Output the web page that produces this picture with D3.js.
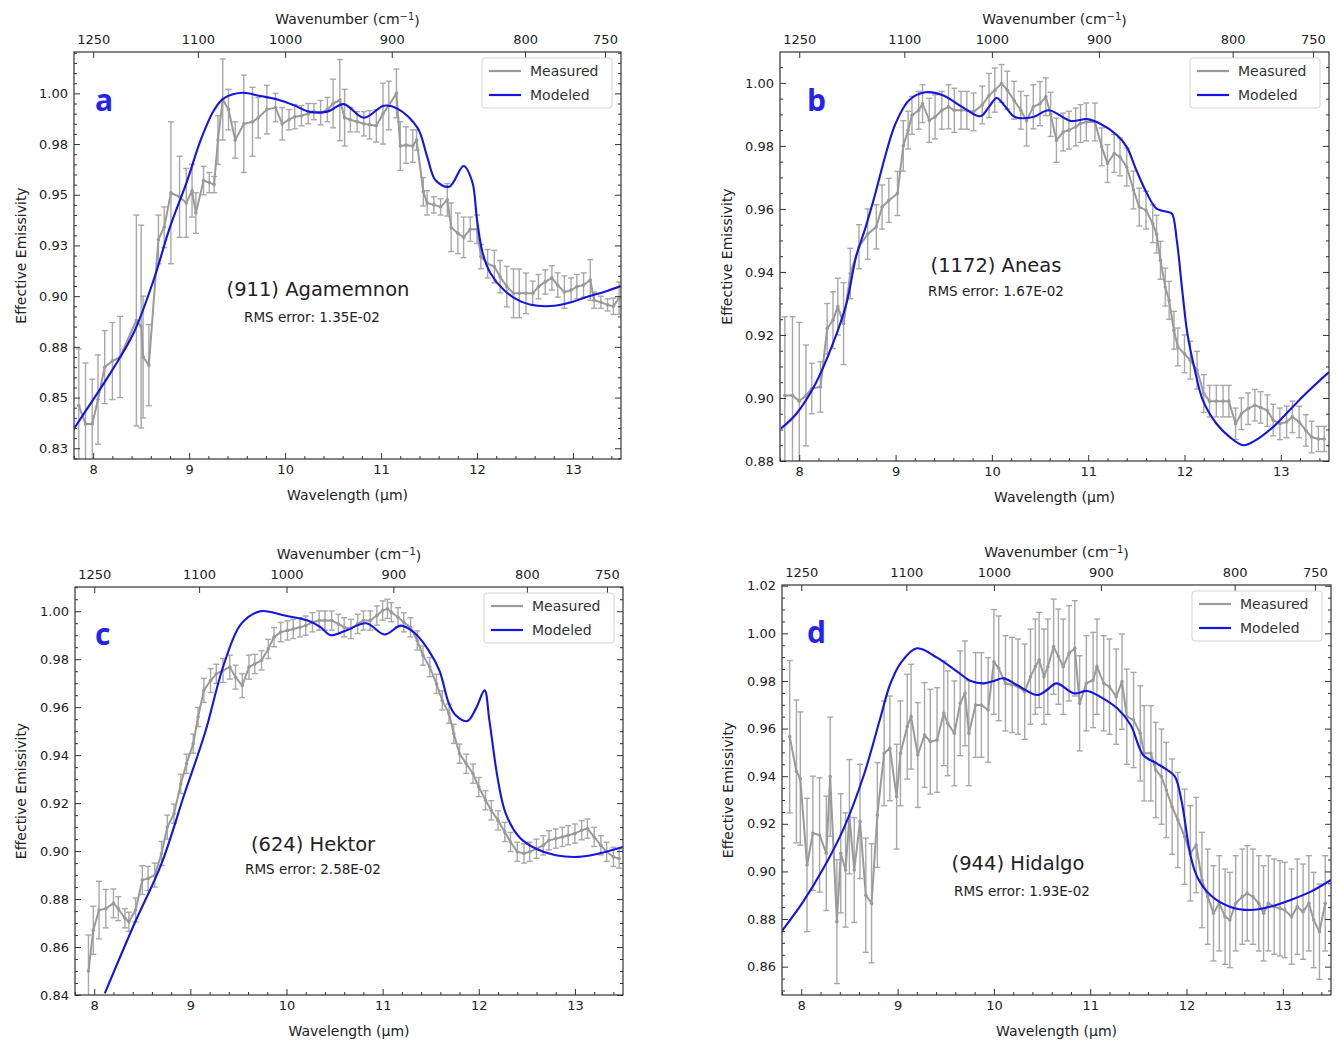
<!DOCTYPE html>
<html><head><meta charset="utf-8">
<script src="https://cdn.jsdelivr.net/npm/d3@7"></script>
<style>
body{margin:0;background:#fff;}
svg text{font-family:"DejaVu Sans",sans-serif;}
</style>
</head><body>
<svg id="chart" width="1340" height="1042"></svg>
<script>
// ---------------- DATA ----------------
const xTicks = [8, 9, 10, 11, 12, 13];
const wnTicks = [1250, 1100, 1000, 900, 800, 750];
const wnTickLabels = ["1250", "1100", "1000", "900", "800", "750"];

const aYTicks = [0.825, 0.85, 0.875, 0.9, 0.925, 0.95, 0.975, 1.0];
const aYTickLabels = ["0.83", "0.85", "0.88", "0.90", "0.93", "0.95", "0.98", "1.00"];
const bYTicks = [0.88, 0.90, 0.92, 0.94, 0.96, 0.98, 1.00];
const bYTickLabels = ["0.88", "0.90", "0.92", "0.94", "0.96", "0.98", "1.00"];
const cYTicks = [0.84, 0.86, 0.88, 0.90, 0.92, 0.94, 0.96, 0.98, 1.00];
const cYTickLabels = ["0.84", "0.86", "0.88", "0.90", "0.92", "0.94", "0.96", "0.98", "1.00"];
const dYTicks = [0.86, 0.88, 0.90, 0.92, 0.94, 0.96, 0.98, 1.00, 1.02];
const dYTickLabels = ["0.86", "0.88", "0.90", "0.92", "0.94", "0.96", "0.98", "1.00", "1.02"];

const panelLetters = ["a", "b", "c", "d"];
const asteroidNames = ["(911) Agamemnon", "(1172) Aneas", "(624) Hektor", "(944) Hidalgo"];
const rmsLabels = ["RMS error: 1.35E-02", "RMS error: 1.67E-02", "RMS error: 2.58E-02", "RMS error: 1.93E-02"];
const legendLabels = ["Measured", "Modeled"];

// Panel a (911) Agamemnon
const aWave = [7.85,7.92,7.99,8.05,8.12,8.20,8.28,8.45,8.50,8.52,8.58,8.68,8.74,8.81,8.90,8.97,9.03,9.07,9.15,9.21,9.26,9.30,9.35,9.41,9.48,9.57,9.66,9.72,9.81,9.90,9.97,10.04,10.10,10.17,10.24,10.30,10.37,10.44,10.50,10.57,10.62,10.68,10.75,10.82,10.88,10.95,11.02,11.08,11.16,11.20,11.26,11.33,11.37,11.44,11.48,11.55,11.62,11.69,11.73,11.80,11.86,11.93,12.00,12.04,12.11,12.18,12.24,12.31,12.38,12.44,12.51,12.58,12.64,12.71,12.78,12.84,12.91,12.98,13.04,13.11,13.18,13.22,13.29,13.36,13.42,13.48];
const aMeas = [0.846,0.837,0.837,0.849,0.865,0.868,0.870,0.888,0.885,0.870,0.866,0.928,0.934,0.951,0.949,0.946,0.952,0.941,0.957,0.956,0.955,0.977,0.997,0.992,0.977,0.985,0.986,0.988,0.992,0.993,0.985,0.987,0.9885,0.989,0.990,0.991,0.9905,0.992,0.995,0.9967,0.988,0.987,0.986,0.985,0.9845,0.984,0.990,0.994,1.000,0.974,0.9745,0.974,0.977,0.9515,0.946,0.945,0.944,0.9475,0.934,0.931,0.929,0.933,0.933,0.9195,0.916,0.9146,0.9096,0.9047,0.9014,0.9014,0.9014,0.9014,0.9047,0.907,0.909,0.9055,0.902,0.903,0.9047,0.9055,0.908,0.898,0.897,0.8957,0.895,0.899];
const aErr = [0.028,0.030,0.022,0.022,0.018,0.019,0.020,0.052,0.050,0.030,0.020,0.012,0.010,0.035,0.020,0.017,0.013,0.010,0.007,0.005,0.004,0.012,0.020,0.010,0.009,0.024,0.017,0.010,0.012,0.007,0.008,0.005,0.006,0.005,0.005,0.004,0.006,0.006,0.012,0.020,0.014,0.006,0.005,0.006,0.007,0.008,0.015,0.012,0.012,0.012,0.009,0.008,0.005,0.007,0.006,0.004,0.004,0.008,0.012,0.010,0.010,0.006,0.007,0.006,0.007,0.008,0.008,0.010,0.012,0.012,0.010,0.006,0.006,0.006,0.006,0.006,0.008,0.006,0.006,0.006,0.010,0.004,0.003,0.003,0.004,0.008];
const aModWave = [7.79,8.00,8.21,8.42,8.63,8.80,8.98,9.12,9.26,9.36,9.55,9.74,9.92,10.09,10.25,10.44,10.61,10.82,11.03,11.17,11.38,11.48,11.57,11.71,11.86,11.95,12.00,12.06,12.14,12.28,12.46,12.63,12.81,12.98,13.15,13.33,13.50];
const aModel = [0.834,0.849,0.8644,0.8817,0.908,0.934,0.957,0.977,0.9918,0.9975,1.0003,0.9987,0.997,0.9942,0.991,0.991,0.9947,0.988,0.9939,0.9925,0.983,0.9688,0.957,0.954,0.9642,0.9564,0.9375,0.921,0.9113,0.903,0.8973,0.8953,0.8953,0.897,0.8997,0.9022,0.905];

// Panel b (1172) Aneas
const bWave = [7.85,7.93,8.00,8.07,8.13,8.22,8.29,8.35,8.40,8.46,8.53,8.62,8.71,8.80,8.86,8.93,9.02,9.08,9.13,9.17,9.24,9.28,9.35,9.41,9.48,9.55,9.61,9.68,9.74,9.81,9.90,9.97,10.03,10.10,10.16,10.23,10.30,10.36,10.43,10.50,10.56,10.61,10.67,10.74,10.80,10.87,10.92,10.98,11.07,11.14,11.20,11.27,11.33,11.40,11.47,11.53,11.60,11.67,11.71,11.75,11.80,11.84,11.89,11.93,12.00,12.06,12.13,12.20,12.26,12.33,12.40,12.46,12.53,12.59,12.66,12.73,12.79,12.86,12.92,12.99,13.06,13.12,13.19,13.26,13.32,13.39,13.45];
const bMeas = [0.9008,0.9008,0.899,0.9008,0.903,0.9035,0.922,0.9247,0.929,0.9236,0.9395,0.948,0.952,0.9543,0.9606,0.9627,0.9649,0.980,0.985,0.9897,0.9913,0.9934,0.9881,0.9892,0.9913,0.9924,0.9913,0.9913,0.9913,0.9908,0.993,0.996,0.9977,0.9998,0.9977,0.9945,0.9913,0.988,0.9924,0.9934,0.9956,0.990,0.9818,0.9844,0.985,0.986,0.9871,0.9876,0.9876,0.9797,0.9744,0.9776,0.9765,0.9733,0.966,0.9606,0.9596,0.9553,0.952,0.9437,0.9352,0.931,0.9215,0.9162,0.914,0.912,0.9088,0.9014,0.899,0.899,0.899,0.899,0.8918,0.895,0.8966,0.8977,0.897,0.896,0.893,0.8918,0.8924,0.894,0.8924,0.8897,0.8876,0.887,0.887];
const bErr = [0.025,0.025,0.025,0.016,0.008,0.008,0.008,0.009,0.009,0.013,0.008,0.007,0.008,0.007,0.007,0.007,0.007,0.008,0.006,0.006,0.006,0.006,0.007,0.007,0.006,0.007,0.007,0.006,0.006,0.006,0.006,0.007,0.007,0.006,0.006,0.006,0.006,0.008,0.007,0.007,0.006,0.007,0.007,0.006,0.006,0.006,0.006,0.006,0.006,0.006,0.006,0.006,0.006,0.006,0.006,0.006,0.006,0.006,0.006,0.006,0.006,0.006,0.006,0.006,0.006,0.006,0.006,0.006,0.005,0.005,0.005,0.005,0.005,0.005,0.005,0.005,0.005,0.005,0.005,0.005,0.005,0.005,0.005,0.005,0.005,0.004,0.004];
const bModWave = [7.81,7.97,8.17,8.35,8.49,8.59,8.69,8.79,8.90,9.00,9.14,9.31,9.49,9.69,9.88,9.97,10.05,10.14,10.24,10.43,10.59,10.82,10.99,11.12,11.30,11.40,11.50,11.61,11.71,11.83,11.87,11.92,11.98,12.03,12.10,12.19,12.33,12.47,12.61,12.74,12.92,13.09,13.26,13.50];
const bModel = [0.8903,0.895,0.9046,0.9173,0.930,0.9448,0.9543,0.9649,0.9776,0.9871,0.9945,0.997,0.9961,0.9924,0.9894,0.9924,0.9952,0.9924,0.9892,0.9892,0.9913,0.9879,0.9885,0.9871,0.9834,0.9797,0.9723,0.9649,0.9601,0.959,0.9585,0.950,0.9331,0.9204,0.9098,0.8993,0.8919,0.8876,0.885,0.8866,0.8908,0.8961,0.9014,0.9082];

// Panel c (624) Hektor
const cWave = [7.94,7.99,8.05,8.12,8.20,8.25,8.32,8.36,8.43,8.50,8.56,8.63,8.70,8.76,8.83,8.90,8.96,9.03,9.08,9.14,9.21,9.27,9.34,9.41,9.47,9.54,9.61,9.67,9.74,9.81,9.87,9.94,10.01,10.07,10.14,10.20,10.27,10.34,10.40,10.47,10.54,10.60,10.67,10.74,10.80,10.87,10.94,11.00,11.05,11.09,11.16,11.22,11.29,11.36,11.42,11.49,11.56,11.62,11.69,11.74,11.80,11.87,11.94,12.00,12.07,12.13,12.20,12.27,12.33,12.40,12.47,12.53,12.60,12.67,12.73,12.80,12.87,12.93,13.00,13.07,13.13,13.20,13.27,13.33,13.40,13.46];
const cMeas = [0.850,0.867,0.8754,0.876,0.8782,0.876,0.872,0.8705,0.8754,0.8879,0.8886,0.890,0.899,0.910,0.9156,0.928,0.9364,0.9448,0.9559,0.967,0.9711,0.9739,0.9753,0.9767,0.9725,0.969,0.9767,0.978,0.9795,0.9843,0.9892,0.9913,0.992,0.9926,0.9933,0.994,0.9954,0.9961,0.9961,0.9961,0.9947,0.9933,0.9926,0.9947,0.9961,0.9961,0.9982,1.0003,1.001,0.9996,0.9975,0.9954,0.9933,0.9878,0.9815,0.9767,0.9697,0.9628,0.9573,0.9489,0.9406,0.9364,0.9323,0.9267,0.9212,0.917,0.9128,0.908,0.9038,0.8997,0.899,0.8997,0.901,0.9024,0.9045,0.9052,0.9059,0.9066,0.9073,0.9087,0.9094,0.9059,0.9024,0.8997,0.8976,0.8969];
const cErr = [0.015,0.010,0.012,0.008,0.006,0.005,0.004,0.004,0.005,0.006,0.005,0.005,0.005,0.005,0.004,0.004,0.004,0.004,0.004,0.005,0.005,0.004,0.005,0.005,0.005,0.005,0.005,0.004,0.004,0.004,0.004,0.004,0.004,0.004,0.004,0.004,0.004,0.004,0.004,0.004,0.004,0.004,0.004,0.004,0.004,0.004,0.004,0.004,0.004,0.004,0.004,0.004,0.004,0.004,0.004,0.004,0.004,0.004,0.004,0.004,0.004,0.004,0.004,0.004,0.004,0.004,0.004,0.004,0.004,0.004,0.004,0.004,0.004,0.004,0.004,0.004,0.004,0.004,0.004,0.004,0.004,0.004,0.004,0.004,0.004,0.004];
const cModWave = [8.11,8.42,8.70,8.94,9.15,9.35,9.53,9.73,9.98,10.22,10.35,10.46,10.62,10.83,11.02,11.19,11.33,11.48,11.59,11.69,11.76,11.88,11.97,12.06,12.11,12.20,12.28,12.42,12.59,12.80,13.04,13.25,13.50];
const cModel = [0.8407,0.8699,0.8948,0.924,0.949,0.978,0.9948,1.0,0.9982,0.9961,0.9935,0.990,0.992,0.995,0.9903,0.994,0.991,0.9836,0.9753,0.9614,0.9566,0.9542,0.9594,0.967,0.9545,0.9295,0.9157,0.9059,0.9011,0.8983,0.8976,0.899,0.9017];

// Panel d (944) Hidalgo
const dWave = [7.88,7.95,7.99,8.06,8.12,8.19,8.26,8.30,8.37,8.41,8.46,8.50,8.55,8.61,8.67,8.73,8.79,8.86,8.92,8.99,9.03,9.10,9.14,9.21,9.28,9.34,9.41,9.48,9.52,9.59,9.65,9.70,9.74,9.81,9.87,9.94,10.00,10.05,10.12,10.19,10.25,10.32,10.38,10.43,10.47,10.52,10.56,10.62,10.67,10.72,10.78,10.84,10.89,10.96,11.03,11.07,11.14,11.20,11.27,11.33,11.38,11.45,11.52,11.56,11.63,11.68,11.74,11.79,11.85,11.91,11.98,12.04,12.10,12.16,12.22,12.28,12.34,12.40,12.45,12.51,12.58,12.63,12.69,12.75,12.80,12.85,12.91,12.97,13.02,13.09,13.15,13.21,13.27,13.32,13.38,13.44];
const dMeas = [0.9566,0.942,0.939,0.9027,0.916,0.9153,0.9076,0.9398,0.8789,0.9076,0.9006,0.923,0.9006,0.921,0.890,0.8866,0.9237,0.9496,0.9517,0.9314,0.9496,0.9608,0.965,0.9489,0.9573,0.9545,0.9552,0.9664,0.9622,0.958,0.9706,0.9748,0.958,0.9699,0.9699,0.9678,0.988,0.9853,0.979,0.9783,0.9776,0.9755,0.9818,0.986,0.9888,0.9818,0.986,0.9944,0.9902,0.986,0.9916,0.9937,0.9706,0.979,0.9804,0.986,0.979,0.9776,0.9734,0.9797,0.965,0.9636,0.958,0.9496,0.9496,0.9426,0.9398,0.9342,0.9272,0.9216,0.9146,0.9076,0.9111,0.8964,0.8894,0.8824,0.8866,0.881,0.8796,0.8866,0.8894,0.8908,0.8894,0.8866,0.8824,0.8866,0.8852,0.8845,0.8838,0.881,0.8852,0.8831,0.8866,0.8796,0.8747,0.8866];
const dErr = [0.032,0.030,0.028,0.028,0.024,0.024,0.024,0.025,0.026,0.025,0.024,0.024,0.022,0.024,0.024,0.025,0.022,0.022,0.022,0.022,0.022,0.022,0.022,0.022,0.022,0.022,0.022,0.022,0.022,0.022,0.022,0.022,0.022,0.022,0.022,0.022,0.022,0.022,0.02,0.02,0.02,0.02,0.02,0.02,0.02,0.02,0.02,0.02,0.02,0.02,0.02,0.02,0.02,0.02,0.02,0.02,0.02,0.02,0.02,0.02,0.02,0.02,0.02,0.02,0.02,0.02,0.02,0.02,0.02,0.02,0.02,0.02,0.02,0.02,0.02,0.02,0.02,0.02,0.02,0.02,0.02,0.02,0.02,0.02,0.02,0.02,0.02,0.02,0.02,0.02,0.02,0.02,0.02,0.02,0.02,0.02];
const dModWave = [7.80,8.02,8.23,8.44,8.65,8.82,8.92,9.03,9.20,9.41,9.62,9.76,9.90,10.00,10.10,10.24,10.45,10.55,10.65,10.83,10.97,11.10,11.28,11.42,11.55,11.69,11.80,11.88,11.95,12.04,12.11,12.25,12.45,12.66,12.87,13.08,13.29,13.50];
const dModel = [0.875,0.8873,0.9013,0.918,0.9405,0.9643,0.9783,0.9874,0.9937,0.9898,0.9839,0.980,0.979,0.980,0.9811,0.9783,0.9741,0.9762,0.979,0.9748,0.9758,0.9734,0.9685,0.9615,0.9489,0.9454,0.9426,0.9398,0.9293,0.9069,0.8978,0.890,0.8852,0.8838,0.8852,0.888,0.8915,0.8964];

// ---------------- LAYOUT ----------------
const layout = [
  {frame:[74,52,621,459], yDomain:[0.8197,1.0204], yTicks:aYTicks, yLabels:aYTickLabels, wave:aWave, meas:aMeas, err:aErr, mw:aModWave, mv:aModel, name:[318,289], rms:[312,317], letter:[95,111], yl:21},
  {frame:[780,52,1329,461], yDomain:[0.88,1.0098], yTicks:bYTicks, yLabels:bYTickLabels, wave:bWave, meas:bMeas, err:bErr, mw:bModWave, mv:bModel, name:[996,265], rms:[996,291], letter:[807,111], yl:727},
  {frame:[75,587,623,995], yDomain:[0.84,1.0101], yTicks:cYTicks, yLabels:cYTickLabels, wave:cWave, meas:cMeas, err:cErr, mw:cModWave, mv:cModel, name:[313,844], rms:[313,869], letter:[95,645], yl:21},
  {frame:[782,585,1331,995], yDomain:[0.8481,1.0203], yTicks:dYTicks, yLabels:dYTickLabels, wave:dWave, meas:dMeas, err:dErr, mw:dModWave, mv:dModel, name:[1018,863], rms:[1022,891], letter:[807,643], yl:728}
];

const GRAY = "#9a9a9a";
const BLUE = "#1414e6";
const TXT = "#222";
const svg = d3.select("#chart");
const defs = svg.append("defs");

layout.forEach((P, idx) => {
  const [x0, y0, x1, y1] = P.frame;
  const x = d3.scaleLinear().domain([7.8, 13.5]).range([x0, x1]);
  const y = d3.scaleLinear().domain(P.yDomain).range([y1, y0]);
  const g = svg.append("g");

  const cid = "clip" + idx;
  defs.append("clipPath").attr("id", cid).append("rect")
    .attr("x", x0).attr("y", y0).attr("width", x1 - x0).attr("height", y1 - y0);
  const gc = g.append("g").attr("clip-path", `url(#${cid})`);

  const pts = P.wave.map((w, i) => ({w, v: P.meas[i], e: P.err[i]}));

  // error bars
  const eb = gc.append("g").attr("stroke", "#a8a8a8").attr("stroke-width", 1.4);
  eb.selectAll("line.v").data(pts).join("line").attr("class", "v")
    .attr("x1", d => x(d.w)).attr("x2", d => x(d.w))
    .attr("y1", d => y(d.v - d.e)).attr("y2", d => y(d.v + d.e));
  ["t", "b"].forEach(s => {
    eb.selectAll("line.c" + s).data(pts).join("line").attr("class", "c" + s)
      .attr("x1", d => x(d.w) - 3).attr("x2", d => x(d.w) + 3)
      .attr("y1", d => y(s === "t" ? d.v + d.e : d.v - d.e))
      .attr("y2", d => y(s === "t" ? d.v + d.e : d.v - d.e));
  });
  // measured line
  gc.append("path").datum(pts)
    .attr("fill", "none").attr("stroke", GRAY).attr("stroke-width", 2)
    .attr("d", d3.line().x(d => x(d.w)).y(d => y(d.v)));
  gc.append("g").attr("fill", GRAY).selectAll("circle").data(pts).join("circle")
    .attr("cx", d => x(d.w)).attr("cy", d => y(d.v)).attr("r", 1.8);
  // model line
  const mpts = P.mw.map((w, i) => ({w, v: P.mv[i]}));
  gc.append("path").datum(mpts)
    .attr("fill", "none").attr("stroke", BLUE).attr("stroke-width", 2.1)
    .attr("d", d3.line().curve(d3.curveCatmullRom.alpha(0.5)).x(d => x(d.w)).y(d => y(d.v)));

  // axes
  const styleAxis = sel => {
    sel.select(".domain").remove();
    sel.selectAll(".tick line").attr("stroke", "#333").attr("stroke-width", 1);
    sel.selectAll(".tick text").attr("fill", TXT).style("font-size", "13px");
  };
  const xMinor = d3.range(39, 68).map(i => +(i * 0.2).toFixed(1)).filter(v => Math.abs(v - Math.round(v)) > 1e-6);
  const ys = 0.005;
  const yMinor = d3.range(Math.ceil(P.yDomain[0] / ys), Math.floor(P.yDomain[1] / ys) + 1)
    .map(i => +(i * ys).toFixed(3)).filter(v => !P.yTicks.some(t => Math.abs(t - v) < 1e-6));

  g.append("g").attr("transform", `translate(0,${y1})`)
    .call(d3.axisBottom(x).tickValues(xTicks).tickFormat(d3.format("d")).tickSizeInner(-6).tickSizeOuter(0).tickPadding(6)).call(styleAxis);
  g.append("g").attr("transform", `translate(0,${y1})`)
    .call(d3.axisBottom(x).tickValues(xMinor).tickFormat("").tickSizeInner(-3).tickSizeOuter(0)).call(styleAxis);
  g.append("g").attr("transform", `translate(0,${y0})`)
    .call(d3.axisTop(x).tickValues(wnTicks.map(w => 1e4 / w)).tickFormat((d, i) => wnTickLabels[i]).tickSizeInner(-6).tickSizeOuter(0).tickPadding(8)).call(styleAxis);
  g.append("g").attr("transform", `translate(${x0},0)`)
    .call(d3.axisLeft(y).tickValues(P.yTicks).tickFormat((d, i) => P.yLabels[i]).tickSizeInner(-6).tickSizeOuter(0).tickPadding(6)).call(styleAxis);
  g.append("g").attr("transform", `translate(${x0},0)`)
    .call(d3.axisLeft(y).tickValues(yMinor).tickFormat("").tickSizeInner(-3).tickSizeOuter(0)).call(styleAxis);
  g.append("g").attr("transform", `translate(${x1},0)`)
    .call(d3.axisRight(y).tickValues(P.yTicks).tickFormat("").tickSizeInner(-6).tickSizeOuter(0)).call(styleAxis);
  g.append("g").attr("transform", `translate(${x1},0)`)
    .call(d3.axisRight(y).tickValues(yMinor).tickFormat("").tickSizeInner(-3).tickSizeOuter(0)).call(styleAxis);

  // frame
  g.append("rect").attr("x", x0).attr("y", y0).attr("width", x1 - x0).attr("height", y1 - y0)
    .attr("fill", "none").attr("stroke", "#333").attr("stroke-width", 1.2);

  // axis titles
  const cx = (x0 + x1) / 2;
  g.append("text").attr("x", cx).attr("y", y1 + 41).attr("text-anchor", "middle")
    .attr("fill", TXT).style("font-size", "14px").text("Wavelength (µm)");
  const wt = g.append("text").attr("x", cx).attr("y", y0 - 28).attr("text-anchor", "middle")
    .attr("fill", TXT).style("font-size", "14px");
  wt.append("tspan").text("Wavenumber (cm");
  wt.append("tspan").attr("dy", "-0.45em").style("font-size", "10px").text("−1");
  wt.append("tspan").attr("dy", "0.45em").text(")");
  g.append("text").attr("transform", `translate(${P.yl},${(y0 + y1) / 2}) rotate(-90)`)
    .attr("text-anchor", "middle").attr("dy", "0.35em")
    .attr("fill", TXT).style("font-size", "14px").text("Effective Emissivity");

  // annotations
  g.append("text").attr("x", P.name[0]).attr("y", P.name[1]).attr("text-anchor", "middle").attr("dy", "0.35em")
    .attr("fill", TXT).style("font-size", "19.5px").text(asteroidNames[idx]);
  g.append("text").attr("x", P.rms[0]).attr("y", P.rms[1]).attr("text-anchor", "middle").attr("dy", "0.35em")
    .attr("fill", TXT).style("font-size", "13.5px").text(rmsLabels[idx]);
  g.append("text").attr("x", P.letter[0]).attr("y", P.letter[1])
    .attr("fill", "#2323f0").style("font-family", "'Open Sans', sans-serif").style("font-weight", "700").style("font-size", "30px")
    .text(panelLetters[idx]);

  // legend
  const lx = x1 - 139, ly = y0 + 6;
  const lg = g.append("g");
  lg.append("rect").attr("x", lx).attr("y", ly).attr("width", 130).attr("height", 50).attr("rx", 3)
    .attr("fill", "#fff").attr("fill-opacity", 0.85).attr("stroke", "#d4d4d4");
  [GRAY, BLUE].forEach((c, i) => {
    const yy = ly + 13 + i * 24;
    lg.append("line").attr("x1", lx + 7).attr("x2", lx + 39).attr("y1", yy).attr("y2", yy)
      .attr("stroke", c).attr("stroke-width", 2.2);
    lg.append("text").attr("x", lx + 48).attr("y", yy).attr("dy", "0.35em")
      .attr("fill", "#333").style("font-size", "14px").text(legendLabels[i]);
  });
});
</script>
</body></html>
